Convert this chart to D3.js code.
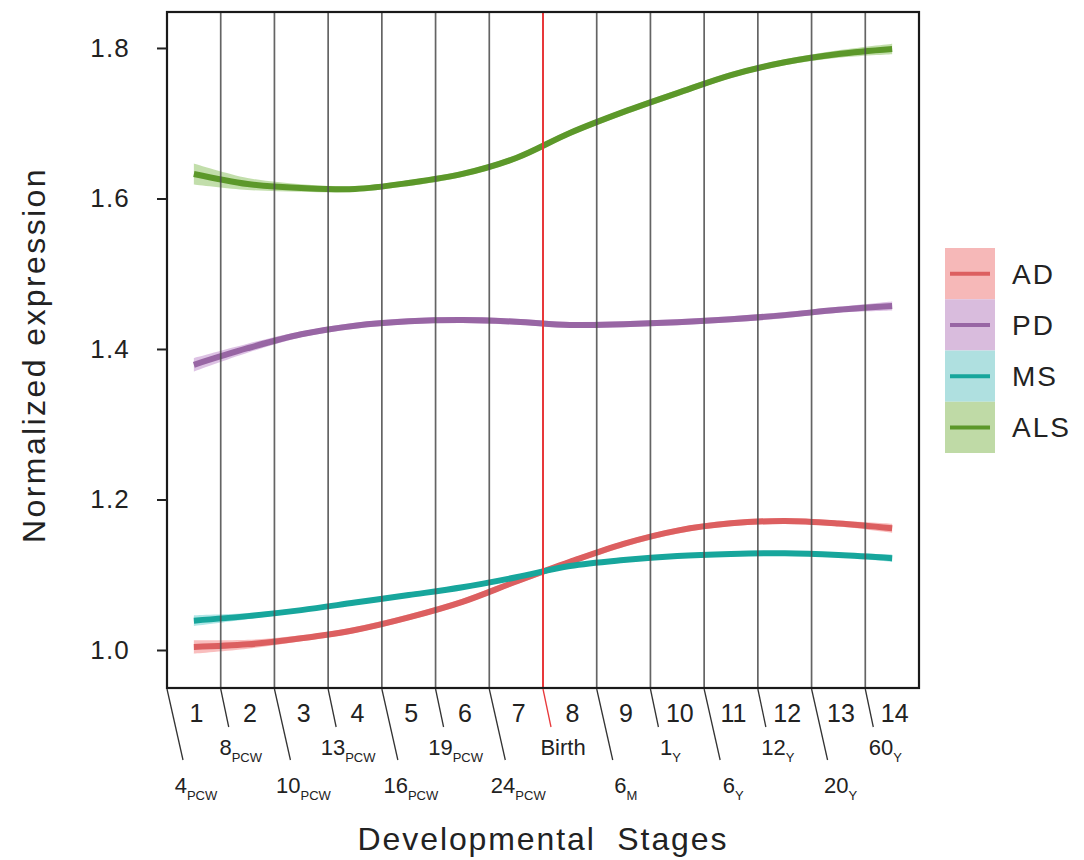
<!DOCTYPE html>
<html>
<head>
<meta charset="utf-8">
<script src="https://cdn.jsdelivr.net/npm/d3@7"></script>
<style>
  body { margin: 0; background: #fff; }
  text { font-family: "Liberation Sans", Arial, Helvetica, sans-serif; fill: #222; }
</style>
</head>
<body>
<div id="chart"></div>
<script>
// stages and labels
var stages = [1, 2, 3, 4, 5, 6, 7, 8, 9, 10, 11, 12, 13, 14];
var ageNums  = ["4", "8", "10", "13", "16", "19", "24", "Birth", "6", "1", "6", "12", "20", "60"];
var ageUnits = ["PCW", "PCW", "PCW", "PCW", "PCW", "PCW", "PCW", "", "M", "Y", "Y", "Y", "Y", "Y"];
var yTicks = [1.0, 1.2, 1.4, 1.6, 1.8];
var diseases = ["AD", "PD", "MS", "ALS"];

// smoothed expression per stage
var AD  = [1.004, 1.0075, 1.0155, 1.0266, 1.0434, 1.064, 1.091, 1.117, 1.141, 1.1586, 1.1683, 1.1714, 1.168, 1.1617];
var PD  = [1.379, 1.401, 1.4195, 1.431, 1.4368, 1.4385, 1.4363, 1.432, 1.433, 1.4355, 1.4394, 1.445, 1.452, 1.457];
var MS  = [1.039, 1.045, 1.053, 1.063, 1.073, 1.0833, 1.0966, 1.1116, 1.1196, 1.125, 1.1276, 1.1285, 1.1262, 1.122];
var ALS = [1.6326, 1.6193, 1.614, 1.6126, 1.6206, 1.6326, 1.6538, 1.687, 1.715, 1.740, 1.764, 1.781, 1.792, 1.7987];

// confidence band half widths
var AD_se  = [0.009, 0.006, 0.004, 0.004, 0.004, 0.004, 0.004, 0.004, 0.004, 0.004, 0.004, 0.004, 0.004, 0.006];
var PD_se  = [0.009, 0.006, 0.004, 0.004, 0.004, 0.004, 0.004, 0.004, 0.004, 0.004, 0.004, 0.004, 0.004, 0.006];
var MS_se  = [0.007, 0.004, 0.003, 0.003, 0.003, 0.003, 0.003, 0.003, 0.003, 0.003, 0.003, 0.003, 0.003, 0.005];
var ALS_se = [0.014, 0.008, 0.005, 0.004, 0.004, 0.004, 0.004, 0.004, 0.004, 0.004, 0.004, 0.004, 0.005, 0.007];

var series = [
  {name: "AD",  values: AD,  se: AD_se,  line: "#dc5f60", band: "#f7a3a3", key: "#f6b8b8"},
  {name: "PD",  values: PD,  se: PD_se,  line: "#9866a4", band: "#cfa8d8", key: "#d9bcdd"},
  {name: "MS",  values: MS,  se: MS_se,  line: "#17a69c", band: "#8fdcdc", key: "#afe0e0"},
  {name: "ALS", values: ALS, se: ALS_se, line: "#5c982a", band: "#a8d088", key: "#bfdaa6"}
];

var margin = {top: 12, left: 167},
    width = 752,
    height = 676;

var svg = d3.select("#chart")
  .append("svg")
    .attr("width", 1084)
    .attr("height", 860);

var g = svg.append("g")
    .attr("transform", "translate(" + margin.left + "," + margin.top + ")");

var x = d3.scaleLinear()
    .domain([0.5, 14.5])
    .range([0, width]);

var y = d3.scaleLinear()
    .domain([0.9495, 1.8478])
    .range([height, 0]);

// bands
var area = d3.area()
    .x(function(d, i) { return x(stages[i]); })
    .y0(function(d) { return y(d.v - d.se); })
    .y1(function(d) { return y(d.v + d.se); })
    .curve(d3.curveCatmullRom);

var line = d3.line()
    .x(function(d, i) { return x(stages[i]); })
    .y(function(d) { return y(d.v); })
    .curve(d3.curveCatmullRom);

series.forEach(function(s) {
  var pts = s.values.map(function(v, i) { return {v: v, se: s.se[i]}; });
  g.append("path")
    .attr("d", area(pts))
    .attr("fill", s.band)
    .attr("opacity", 0.7);
  g.append("path")
    .attr("d", line(pts))
    .attr("fill", "none")
    .attr("stroke", s.line)
    .attr("stroke-width", 6);
});

// stage boundaries
var bounds = stages.slice(1).map(function(s) { return s - 0.5; });
g.selectAll(".vline")
  .data(bounds)
  .enter()
  .append("line")
    .attr("x1", function(d) { return x(d); })
    .attr("x2", function(d) { return x(d); })
    .attr("y1", 0)
    .attr("y2", height)
    .attr("stroke", function(d) { return d === 7.5 ? "#e8383a" : "#4a4a4a"; })
    .attr("stroke-width", function(d) { return d === 7.5 ? 2 : 1.7; })
    .attr("opacity", function(d) { return d === 7.5 ? 1 : 0.85; });

// panel border
g.append("rect")
    .attr("width", width)
    .attr("height", height)
    .attr("fill", "none")
    .attr("stroke", "#1a1a1a")
    .attr("stroke-width", 2.2);

// y axis
var yAxis = g.append("g")
    .call(d3.axisLeft(y).tickValues(yTicks).tickFormat(d3.format(".1f")).tickSize(10).tickPadding(27));
yAxis.select(".domain").remove();
yAxis.selectAll("line").attr("stroke", "#222").attr("stroke-width", 2);
yAxis.selectAll("text")
    .style("font-size", "26px")
    .style("letter-spacing", "1.2px")
    .attr("fill", "#222");

// stage numbers
var xAxis = g.append("g")
    .attr("transform", "translate(0," + height + ")")
    .call(d3.axisBottom(x).tickValues(stages).tickSize(0).tickPadding(0));
xAxis.select(".domain").remove();
xAxis.selectAll("text")
    .attr("y", 34)
    .attr("dy", 0)
    .attr("dx", 2)
    .style("font-size", "25px")
    .attr("fill", "#222");

// age labels with slanted leaders
var ages = stages.map(function(s, i) {
  return {b: s - 0.5, num: ageNums[i], unit: ageUnits[i], low: i % 2 === 0};
});

g.selectAll(".slant")
  .data(ages)
  .enter()
  .append("line")
    .attr("x1", function(d) { return x(d.b); })
    .attr("y1", height + 1)
    .attr("x2", function(d) { return x(d.b) + (d.low ? 16 : 8); })
    .attr("y2", function(d) { return height + (d.low ? 72 : 39); })
    .attr("stroke", function(d) { return d.b === 7.5 ? "#e8383a" : "#333"; })
    .attr("stroke-width", 1.3);

var ageText = g.selectAll(".age")
  .data(ages)
  .enter()
  .append("text")
    .attr("x", function(d) { return x(d.b) + (d.low ? 29 : 20); })
    .attr("y", function(d) { return height + (d.low ? 105 : 67); })
    .attr("text-anchor", "middle")
    .style("font-size", "22px");
ageText.append("tspan").text(function(d) { return d.num; });
ageText.append("tspan")
    .attr("dy", 7)
    .style("font-size", "13px")
    .text(function(d) { return d.unit; });

// axis titles
svg.append("text")
    .attr("x", margin.left + width / 2)
    .attr("y", 850)
    .attr("text-anchor", "middle")
    .style("font-size", "32px")
    .style("letter-spacing", "1.9px")
    .text("Developmental\u00a0 Stages");

svg.append("text")
    .attr("transform", "translate(45," + 355 + ") rotate(-90)")
    .attr("text-anchor", "middle")
    .style("font-size", "32px")
    .style("letter-spacing", "2.4px")
    .text("Normalized expression");

// legend
var legend = svg.append("g")
    .attr("transform", "translate(945,248)");
var keyH = 51.25;
var items = legend.selectAll(".key")
  .data(series)
  .enter()
  .append("g")
    .attr("transform", function(d, i) { return "translate(0," + (i * keyH) + ")"; });
items.append("rect")
    .attr("width", 50)
    .attr("height", keyH)
    .attr("fill", function(d) { return d.key; });
items.append("line")
    .attr("x1", 5)
    .attr("x2", 45)
    .attr("y1", keyH / 2)
    .attr("y2", keyH / 2)
    .attr("stroke", function(d) { return d.line; })
    .attr("stroke-width", 4);
items.append("text")
    .attr("x", 67)
    .attr("y", keyH / 2 + 10)
    .style("font-size", "28px")
    .style("letter-spacing", "2px")
    .text(function(d) { return d.name; });
</script>
</body>
</html>
